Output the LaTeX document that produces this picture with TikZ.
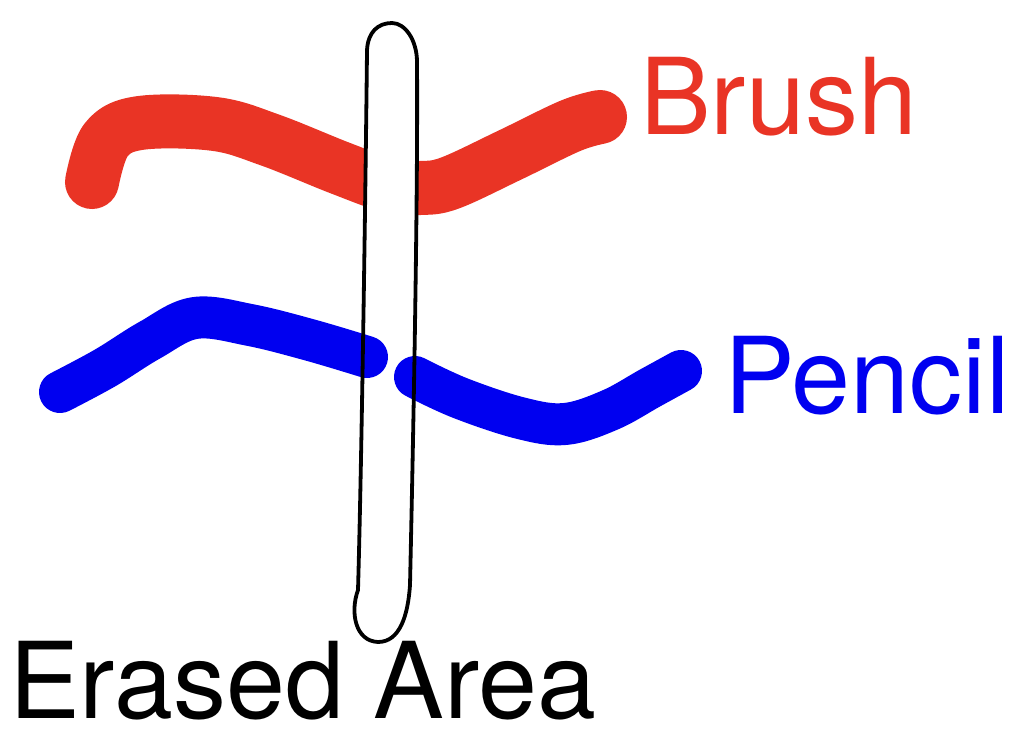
\documentclass[tikz,border=0pt]{standalone}
\usepackage{fontspec}
\setmainfont{TeX Gyre Heros}
\definecolor{brushred}{RGB}{233,52,37}
\definecolor{pencilblue}{RGB}{0,0,240}
\newcommand\erasershape{(367,50) .. controls (366,150) and (362,450) .. (358,590)
  .. controls (350,612) and (355,641) .. (378,642)
  .. controls (400,642) and (408,615) .. (410,585)
  .. controls (413,450) and (418,200) .. (417,62)
  .. controls (417,40) and (405,23) .. (392,23)
  .. controls (378,23) and (368,32) .. (367,50) -- cycle}
\tikzset{
  brushstroke/.style={draw=brushred,line width=54pt,line cap=round,line join=round},
  pencilstroke/.style={draw=pencilblue,line width=42pt,line cap=round,line join=round},
  eraserline/.style={draw=black,line width=3.8pt,line join=round},
  biglabel/.style={inner sep=0pt,anchor=base west,font=\fontsize{106}{112}\selectfont}
}
\begin{document}
\begin{tikzpicture}[x=1pt,y=-1pt]
\useasboundingbox (0,0) rectangle (1024,744);
% brush stroke
\draw[brushstroke] plot[smooth,tension=0.6] coordinates {(92,182) (106,140) (140,123) (215,124) (270,140) (340,168) (390,186) (420,188) (450,183) (510,155) (570,126) (600,117)};
% erased area interior
\fill[white] \erasershape;
% pencil strokes
\draw[pencilstroke] plot[smooth,tension=0.6] coordinates {(60,392) (105,368) (150,340) (195,318) (250,325) (310,340) (367,357)};
\draw[pencilstroke] plot[smooth,tension=0.6] coordinates {(415,377) (460,398) (520,418) (565,424) (610,410) (650,388) (681,371)};
% eraser outline
\draw[eraserline] \erasershape;
% labels
\node[biglabel,text=brushred] (brushlabel) at (640,134) {Brush};
\node[biglabel,text=pencilblue] (pencillabel) at (724,413) {Pencil};
\node[biglabel,text=black] (erasedlabel) at (9,718) {Erased Area};
\end{tikzpicture}
\end{document}
